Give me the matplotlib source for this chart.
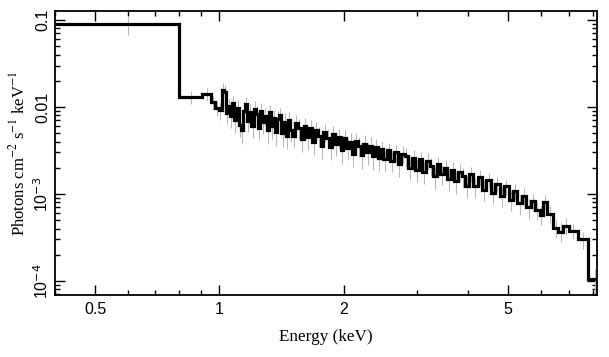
import numpy as np
import matplotlib
matplotlib.use("Agg")
import matplotlib.pyplot as plt
from matplotlib.ticker import LogLocator, FixedLocator, NullFormatter

# bin edges (keV)
edges = [
    0.40, 0.80, 0.91, 0.955, 0.975,
    1.000, 1.012, 1.024, 1.036, 1.049, 1.061, 1.074, 1.087, 1.100, 1.113,
    1.126, 1.140, 1.153, 1.167, 1.181, 1.195, 1.210, 1.224, 1.239, 1.254,
    1.269, 1.284, 1.300, 1.315, 1.331, 1.347, 1.363, 1.379, 1.396, 1.413,
    1.430, 1.447, 1.464, 1.482,
    1.500, 1.524, 1.548, 1.573, 1.598, 1.624, 1.650, 1.676, 1.703, 1.730,
    1.758, 1.786, 1.815, 1.844, 1.873, 1.903, 1.934, 1.965, 1.996, 2.028,
    2.061, 2.094, 2.127, 2.161, 2.196, 2.231, 2.267, 2.303, 2.340, 2.377,
    2.415, 2.454,
    2.493, 2.543, 2.594, 2.646, 2.699, 2.753, 2.808, 2.864, 2.921, 2.980,
    3.039, 3.100, 3.162, 3.225, 3.290, 3.356, 3.423, 3.491, 3.561, 3.632,
    3.705, 3.779, 3.855, 3.932,
    4.011, 4.111, 4.214, 4.319, 4.427, 4.538, 4.651, 4.768, 4.887, 5.009,
    5.134, 5.263, 5.394, 5.529, 5.667, 5.809, 5.954,
    6.08, 6.22, 6.43, 6.61, 6.80, 7.00, 7.36, 7.82, 8.40,
]

# unfolded flux (photons cm^-2 s^-1 keV^-1), one per bin
flux = [
    0.090, 0.0131, 0.0142, 0.0115, 0.0098,
    0.0092, 0.0158, 0.0150, 0.0086, 0.0102, 0.0078, 0.0110, 0.0070, 0.0098, 0.0062,
    0.0054, 0.0091, 0.0108, 0.0069, 0.0088, 0.0061, 0.0095, 0.0083, 0.0058, 0.0089,
    0.0067, 0.0079, 0.0054, 0.0087, 0.0060, 0.0075, 0.0051, 0.0072, 0.0080, 0.0050,
    0.0068, 0.0047, 0.0071, 0.0055,
    0.0047, 0.0066, 0.0058, 0.0043, 0.0061, 0.0045, 0.0057, 0.0040, 0.0054, 0.0047,
    0.0036, 0.0052, 0.0044, 0.0035, 0.0049, 0.0038, 0.0045, 0.0032, 0.0044, 0.0034,
    0.0040, 0.0029, 0.0041, 0.0036, 0.0028, 0.0038, 0.0030, 0.0036, 0.0027, 0.0035,
    0.0026, 0.0033,
    0.0025, 0.0032, 0.0024, 0.0030, 0.0022, 0.0029, 0.0027, 0.0020, 0.0026, 0.0019,
    0.0025, 0.0018, 0.0024, 0.0021, 0.0016, 0.0022, 0.0017, 0.0020, 0.0015, 0.0019,
    0.0014, 0.0018, 0.0016, 0.00125,
    0.00170, 0.00122, 0.00158, 0.00112, 0.00145, 0.00104, 0.00132, 0.00095, 0.00122, 0.00086,
    0.00108, 0.00078, 0.00096, 0.00070, 0.00082, 0.00066, 0.00058,
    0.00081, 0.00059, 0.00041, 0.00037, 0.00043, 0.00038, 0.00030, 0.000105,
]

# relative 1-sigma errors, one per bin
rel_err = [
    0.25, 0.18, 0.18, 0.20, 0.20,
    0.22, 0.18, 0.20, 0.26, 0.22, 0.26, 0.22, 0.28, 0.22, 0.28,
    0.30, 0.24, 0.22, 0.26, 0.24, 0.28, 0.22, 0.24, 0.28, 0.24,
    0.26, 0.24, 0.30, 0.22, 0.28, 0.24, 0.30, 0.24, 0.22, 0.30,
    0.26, 0.30, 0.24, 0.28,
    0.28, 0.24, 0.26, 0.30, 0.24, 0.28, 0.24, 0.30, 0.24, 0.26,
    0.30, 0.24, 0.26, 0.30, 0.24, 0.28, 0.24, 0.30, 0.24, 0.28,
    0.24, 0.30, 0.24, 0.26, 0.30, 0.24, 0.28, 0.24, 0.30, 0.24,
    0.30, 0.24,
    0.26, 0.22, 0.26, 0.22, 0.28, 0.22, 0.24, 0.28, 0.22, 0.28,
    0.22, 0.28, 0.22, 0.24, 0.28, 0.22, 0.26, 0.22, 0.28, 0.22,
    0.28, 0.22, 0.24, 0.28,
    0.20, 0.26, 0.20, 0.26, 0.20, 0.26, 0.20, 0.26, 0.20, 0.26,
    0.20, 0.26, 0.22, 0.26, 0.22, 0.24, 0.24,
    0.20, 0.22, 0.24, 0.24, 0.22, 0.20, 0.22, 0.30,
]

x_ticks = [0.5, 1, 2, 5]
x_ticklabels = ["0.5", "1", "2", "5"]
y_ticks = [1e-4, 1e-3, 1e-2, 1e-1]
y_ticklabels = [r"10$^{-4}$", r"10$^{-3}$", "0.01", "0.1"]

edges_a = np.array(edges)
flux_a = np.array(flux)
centers = 0.5 * (edges_a[:-1] + edges_a[1:])
yerr = flux_a * np.array(rel_err)

fig = plt.figure(figsize=(6.09, 3.57), dpi=100, facecolor="white")
ax = fig.add_axes([0.0903, 0.1737, 0.8900, 0.7955])

ax.errorbar(centers, flux_a, yerr=yerr, fmt="none", ecolor="#b8b8b8",
            elinewidth=0.8, capsize=0, zorder=2)
ax.stairs(flux_a, edges_a, baseline=None, color="black", linewidth=2.3,
          joinstyle="miter", zorder=3)

ax.set_xscale("log")
ax.set_yscale("log")
ax.set_xlim(0.40, 8.2)
ax.set_ylim(6.9e-5, 0.127)

ax.xaxis.set_major_locator(FixedLocator(x_ticks))
ax.set_xticklabels(x_ticklabels)
ax.xaxis.set_minor_locator(LogLocator(base=10, subs=np.arange(2, 10)))
ax.xaxis.set_minor_formatter(NullFormatter())

ax.yaxis.set_major_locator(FixedLocator(y_ticks))
ax.set_yticklabels(y_ticklabels)
ax.yaxis.set_minor_locator(LogLocator(base=10, subs=np.arange(2, 10)))
ax.yaxis.set_minor_formatter(NullFormatter())

ax.tick_params(which="both", direction="in", top=True, right=True, width=1.0,
               labelsize=11.5, colors="black")
ax.tick_params(which="major", length=7)
ax.tick_params(which="minor", length=3.5)
ax.tick_params(axis="x", pad=5)
ax.tick_params(axis="y", pad=3)
for lab in ax.get_xticklabels():
    lab.set_family("Liberation Sans")
for lab in ax.get_yticklabels():
    lab.set_family("Liberation Sans")
    lab.set_rotation(90)
    lab.set_va("center")
    lab.set_ha("right")
    lab.set_math_fontfamily("dejavusans")

for sp in ax.spines.values():
    sp.set_linewidth(1.3)

ax.set_xlabel("Energy (keV)", family="Liberation Serif", fontsize=12.3, labelpad=9)
ax.set_ylabel(r"Photons cm$^{-2}$ s$^{-1}$ keV$^{-1}$", family="Liberation Serif",
              fontsize=12, labelpad=3, math_fontfamily="stix")

fig.savefig("out.png", dpi=100, facecolor="white")
